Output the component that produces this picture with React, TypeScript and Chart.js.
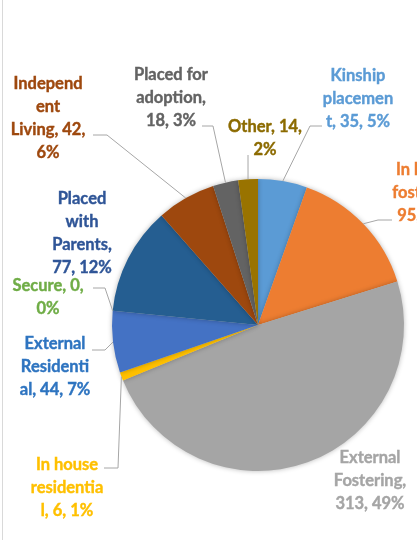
import React, { useEffect, useRef } from "react";
import { Chart, registerables } from "chart.js";

Chart.register(...registerables);

const categories = [
  "Kinship placement",
  "In house fostering",
  "External Fostering",
  "In house residential",
  "External Residential",
  "Secure",
  "Placed with Parents",
  "Independent Living",
  "Placed for adoption",
  "Other",
];
const values = [35, 95, 313, 6, 44, 0, 77, 42, 18, 14];
const percents = ["5%", "15%", "49%", "1%", "7%", "0%", "12%", "6%", "3%", "2%"];

const sliceColors = [
  "#5B9BD5", "#ED7D31", "#A5A5A5", "#FFC000", "#4472C4",
  "#70AD47", "#255E91", "#9E480E", "#636363", "#997300",
];
const labelColors = [
  "#5B9BD5", "#ED7D31", "#A5A5A5", "#FFC000", "#2E74C0",
  "#70AD47", "#2F5597", "#9E480E", "#636363", "#8C6B00",
];

// Wrapped label lines (Excel-style wrapping)
const labelLines = [
  ["Kinship", "placemen", "t, 35, 5%"],
  ["In house", "fostering,", "95, 15%"],
  ["External", "Fostering,", "313, 49%"],
  ["In house", "residentia", "l, 6, 1%"],
  ["External", "Residenti", "al, 44, 7%"],
  ["Secure, 0,", "0%"],
  ["Placed", "with", "Parents,", "77, 12%"],
  ["Independ", "ent", "Living, 42,", "6%"],
  ["Placed for", "adoption,", "18, 3%"],
  ["Other, 14,", "2%"],
];

// Label layout relative to pie centre (px): text centre, leader start, optional elbow
type Lay = { c: [number, number]; s?: [number, number]; e?: [number, number] };
const labelLayout: Lay[] = [
  { c: [100, -226], s: [64, -199], e: [52, -199] },
  { c: [169, -132], s: [134, -105], e: [120, -105] },
  { c: [112, 156] },
  { c: [-191, 163], s: [-154, 143], e: [-140, 143] },
  { c: [-203, 42], s: [-166, 25], e: [-153, 25] },
  { c: [-210, -28], s: [-165, -37], e: [-153, -37] },
  { c: [-176, -92] },
  { c: [-210, -207], s: [-165, -190], e: [-151, -190] },
  { c: [-87, -227], s: [-56, -199], e: [-45, -199] },
  { c: [7, -187], s: [-10, -170] },
];

const labelPlugin = {
  id: "pieLabels",
  beforeDatasetsDraw(chart: any) {
    const ctx = chart.ctx;
    ctx.save();
    ctx.shadowColor = "rgba(0,0,0,0.28)";
    ctx.shadowBlur = 5;
    ctx.shadowOffsetX = 0;
    ctx.shadowOffsetY = 0;
  },
  afterDatasetsDraw(chart: any) {
    const ctx = chart.ctx;
    ctx.restore();
    const meta = chart.getDatasetMeta(0);
    ctx.save();
    meta.data.forEach((arc: any, i: number) => {
      const { x, y, startAngle, endAngle, outerRadius } = arc.getProps(
        ["x", "y", "startAngle", "endAngle", "outerRadius"],
        true
      );
      const mid = (startAngle + endAngle) / 2;
      const ax = x + Math.cos(mid) * outerRadius;
      const ay = y + Math.sin(mid) * outerRadius;
      const lay = labelLayout[i];
      if (lay.s) {
        ctx.beginPath();
        ctx.strokeStyle = "#A6A6A6";
        ctx.lineWidth = 1;
        ctx.moveTo(x + lay.s[0], y + lay.s[1]);
        if (lay.e) ctx.lineTo(x + lay.e[0], y + lay.e[1]);
        ctx.lineTo(ax, ay);
        ctx.stroke();
      }
      const lines = labelLines[i];
      ctx.fillStyle = labelColors[i];
      ctx.strokeStyle = labelColors[i];
      ctx.lineWidth = 0.4;
      ctx.font = "bold 16.5px Lato, 'Open Sans', sans-serif";
      ctx.textAlign = "center";
      ctx.textBaseline = "middle";
      const lh = 23;
      lines.forEach((ln, k) => {
        const tx = x + lay.c[0];
        const ty = y + lay.c[1] + (k - (lines.length - 1) / 2) * lh;
        ctx.fillText(ln, tx, ty);
        ctx.strokeText(ln, tx, ty);
      });
    });
    ctx.restore();
  },
};

export default function App() {
  const ref = useRef<HTMLCanvasElement | null>(null);
  useEffect(() => {
    if (!ref.current) return;
    const chart = new Chart(ref.current, {
      type: "pie",
      data: {
        labels: categories,
        datasets: [
          {
            data: values,
            backgroundColor: sliceColors,
            borderWidth: 0,
          },
        ],
      },
      options: {
        animation: false,
        responsive: false,
        maintainAspectRatio: false,
        layout: { padding: { top: 179, bottom: 69, left: 112, right: 116 } },
        plugins: {
          legend: { display: false },
          tooltip: { enabled: false },
          title: { display: false },
        },
      },
      plugins: [labelPlugin],
    });
    return () => chart.destroy();
  }, []);
  return (
    <div
      style={{
        position: "fixed",
        left: 0,
        top: 0,
        width: 417,
        height: 540,
        overflow: "hidden",
        background: "#fff",
      }}
    >
      <div
        style={{
          position: "absolute",
          left: 2,
          top: 0,
          width: 1,
          height: 540,
          background: "#D9D9D9",
        }}
      />
      <canvas
        ref={ref}
        width={520}
        height={540}
        style={{ position: "absolute", left: 0, top: 0, width: 520, height: 540 }}
      />
    </div>
  );
}
